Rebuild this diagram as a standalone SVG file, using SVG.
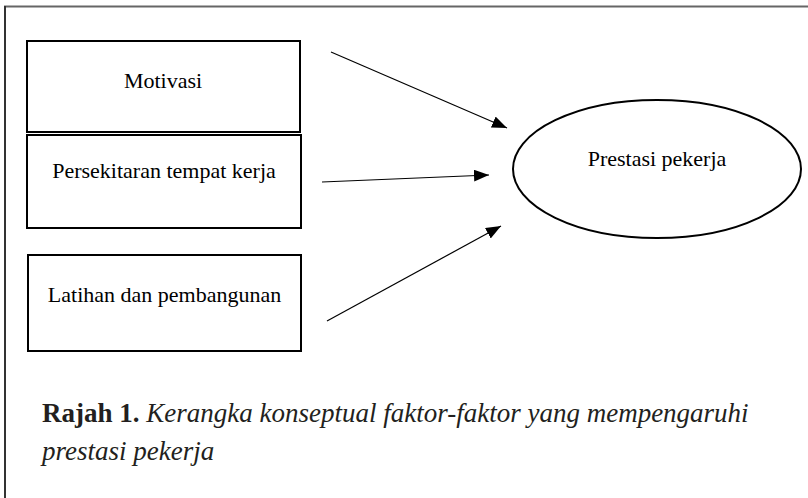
<svg xmlns="http://www.w3.org/2000/svg" width="808" height="498" viewBox="0 0 808 498">
<style>
.box{fill:#fff;stroke:#000;stroke-width:2}
.lbl{font-family:"Liberation Serif","Times New Roman",serif;font-size:22px;fill:#000;text-anchor:middle}
.conn{stroke:#000;stroke-width:1.2;fill:none;marker-end:url(#ah)}
.cap{font-family:"Liberation Serif","Times New Roman",serif;font-size:27px;fill:#231f20}
</style>
<defs>
<marker id="ah" markerUnits="userSpaceOnUse" markerWidth="16" markerHeight="13" refX="15" refY="6" orient="auto">
<path d="M0,0 L15,6 L0,12 z" fill="#000"/>
</marker>
</defs>
<rect width="808" height="498" fill="#fff"/>
<g id="frame">
<line x1="4" y1="6.5" x2="808" y2="6.5" stroke="#666" stroke-width="2"/>
<line x1="5" y1="6" x2="5" y2="498" stroke="#333" stroke-width="2"/>
</g>
<g id="motivasi">
<rect class="box" x="27" y="41" width="273" height="91"/>
<text class="lbl" x="163" y="88">Motivasi</text>
</g>
<g id="persekitaran">
<rect class="box" x="27" y="135" width="274" height="93"/>
<text class="lbl" x="164" y="178">Persekitaran tempat kerja</text>
</g>
<g id="latihan">
<rect class="box" x="28" y="255" width="273" height="96"/>
<text class="lbl" x="164.5" y="302">Latihan dan pembangunan</text>
</g>
<g id="prestasi">
<ellipse class="box" cx="657" cy="169" rx="144" ry="69"/>
<text class="lbl" x="657" y="166">Prestasi pekerja</text>
</g>
<g id="connectors">
<line class="conn" x1="331" y1="52" x2="507" y2="128"/>
<line class="conn" x1="322" y1="182" x2="489" y2="175"/>
<line class="conn" x1="327" y1="321" x2="501" y2="226"/>
</g>
<g id="caption">
<text class="cap" x="42" y="422"><tspan font-weight="bold">Rajah 1.</tspan> <tspan font-style="italic">Kerangka konseptual faktor-faktor yang mempengaruhi</tspan></text>
<text class="cap" x="42" y="460" font-style="italic">prestasi pekerja</text>
</g>
</svg>
